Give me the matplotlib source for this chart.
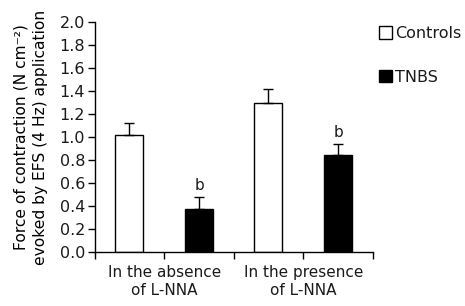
import matplotlib
matplotlib.use("Agg")
import matplotlib.pyplot as plt

# Values
groups = ["In the absence\nof L-NNA", "In the presence\nof L-NNA"]
controls = [1.02, 1.30]
controls_err = [0.10, 0.12]
tnbs = [0.38, 0.85]
tnbs_err = [0.10, 0.09]
tnbs_marks = ["b", "b"]

plt.rcParams['font.family'] = ['DejaVu Sans']
plt.rcParams['font.size'] = 11
plt.rcParams['text.color'] = '#1a1a1a'
plt.rcParams['xtick.labelcolor'] = '#1a1a1a'
plt.rcParams['ytick.labelcolor'] = '#1a1a1a'

fig = plt.figure(figsize=(4.65, 3.06), dpi=100)
ax = fig.add_axes([0.204, 0.175, 0.598, 0.753])

ctrl_x = [0.49, 2.49]
tnbs_x = [1.5, 3.5]
w = 0.41
errkw = dict(elinewidth=1, capthick=1, ecolor='black')

b1 = ax.bar(ctrl_x, controls, w, color='white', edgecolor='black', linewidth=1,
            yerr=[[0, 0], controls_err], capsize=3.5, error_kw=errkw, label='Controls')
b2 = ax.bar(tnbs_x, tnbs, w, color='black', edgecolor='black', linewidth=1,
            yerr=[[0, 0], tnbs_err], capsize=3.5, error_kw=errkw, label='TNBS')

for x, v, e, m in zip(tnbs_x, tnbs, tnbs_err, tnbs_marks):
    ax.text(x, v + e + 0.04, m, ha='center', va='bottom', fontsize=11)

ax.set_xlim(0, 4)
ax.set_ylim(0, 2.0)
ax.set_yticks([i * 0.2 for i in range(11)])
ax.set_yticklabels([f"{i * 0.2:.1f}" for i in range(11)], fontsize=11.5)
ax.set_xticks([0, 1, 2, 3, 4])
ax.set_xticklabels(["", groups[0], "", groups[1], ""], fontsize=11, linespacing=1.25)
ax.tick_params(axis='y', length=5, width=1, direction='out', pad=2)
ax.tick_params(axis='x', length=5, width=1, direction='out', pad=4)

for s in ['top', 'right']:
    ax.spines[s].set_visible(False)
for s in ['left', 'bottom']:
    ax.spines[s].set_linewidth(1)

ax.set_ylabel("Force of contraction (N cm\u207b\u00b2)\nevoked by EFS (4 Hz) application",
              fontsize=11.2, linespacing=1.45, labelpad=8)

fig.legend(handles=[b1, b2], loc='upper left', bbox_to_anchor=(0.815, 0.915),
           frameon=False, handlelength=0.8, handleheight=0.8, handletextpad=0.2,
           labelspacing=1.8, borderpad=0, borderaxespad=0, fontsize=11.5)

fig.savefig("out.png", dpi=100)
